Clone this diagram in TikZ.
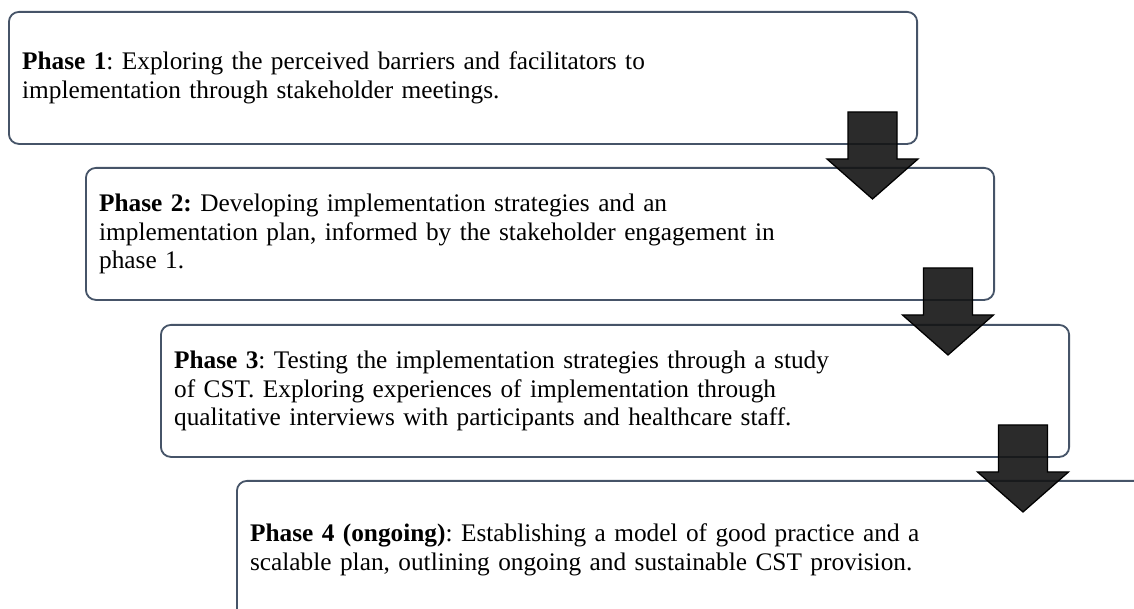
\documentclass[tikz,border=0pt]{standalone}
\usepackage{fontspec}
\setmainfont{Liberation Serif}
\usepackage{tikz}

\definecolor{boxline}{RGB}{70,84,104}
\definecolor{arrowfill}{RGB}{20,20,20}

\begin{document}
\frenchspacing
\begin{tikzpicture}[x=0.025cm,y=-0.025cm]
\tikzstyle{phase}=[draw=boxline, line width=1.3pt, rounded corners=0.25cm, anchor=north west, inner xsep=0.33cm, text width=22.04cm, minimum height=3.3cm, align=left, font=\fontsize{18}{20.6}\selectfont]
\tikzstyle{downarrow}=[draw=black, line width=0.9pt, fill=arrowfill, fill opacity=0.9, line join=miter]

\useasboundingbox (0,0) rectangle (1134,609);
\clip (0,0) rectangle (1134,609);

\node (p1) at (8,11) [phase] {\textbf{Phase 1}: Exploring the perceived barriers and facilitators to\\implementation through stakeholder meetings.};
\node (p2) at (85,167) [phase] {\textbf{Phase 2:} Developing implementation strategies and an\\implementation plan, informed by the stakeholder engagement in\\phase 1.};
\node (p3) at (160,324) [phase] {\textbf{Phase 3}: Testing the implementation strategies through a study\\of CST. Exploring experiences of implementation through\\qualitative interviews with participants and healthcare staff.};
\node (p4) at (236,480) [phase, minimum height=3.45cm] {\textbf{Phase 4 (ongoing)}: Establishing a model of good practice and a\\scalable plan, outlining ongoing and sustainable CST provision.};

% block arrows between the phases
\coordinate (a1) at (872.5,112);
\coordinate (a2) at (948,268);
\coordinate (a3) at (1023,425);

\draw[downarrow] (a1) ++(-24.5,0) -- ++(49,0) -- ++(0,47) -- ++(21,0) -- ++(-45.5,40) -- ++(-45.5,-40) -- ++(21,0) -- cycle;
\draw[downarrow] (a2) ++(-24.5,0) -- ++(49,0) -- ++(0,47) -- ++(21,0) -- ++(-45.5,40) -- ++(-45.5,-40) -- ++(21,0) -- cycle;
\draw[downarrow] (a3) ++(-24.5,0) -- ++(49,0) -- ++(0,47) -- ++(21,0) -- ++(-45.5,40) -- ++(-45.5,-40) -- ++(21,0) -- cycle;
\end{tikzpicture}
\end{document}
